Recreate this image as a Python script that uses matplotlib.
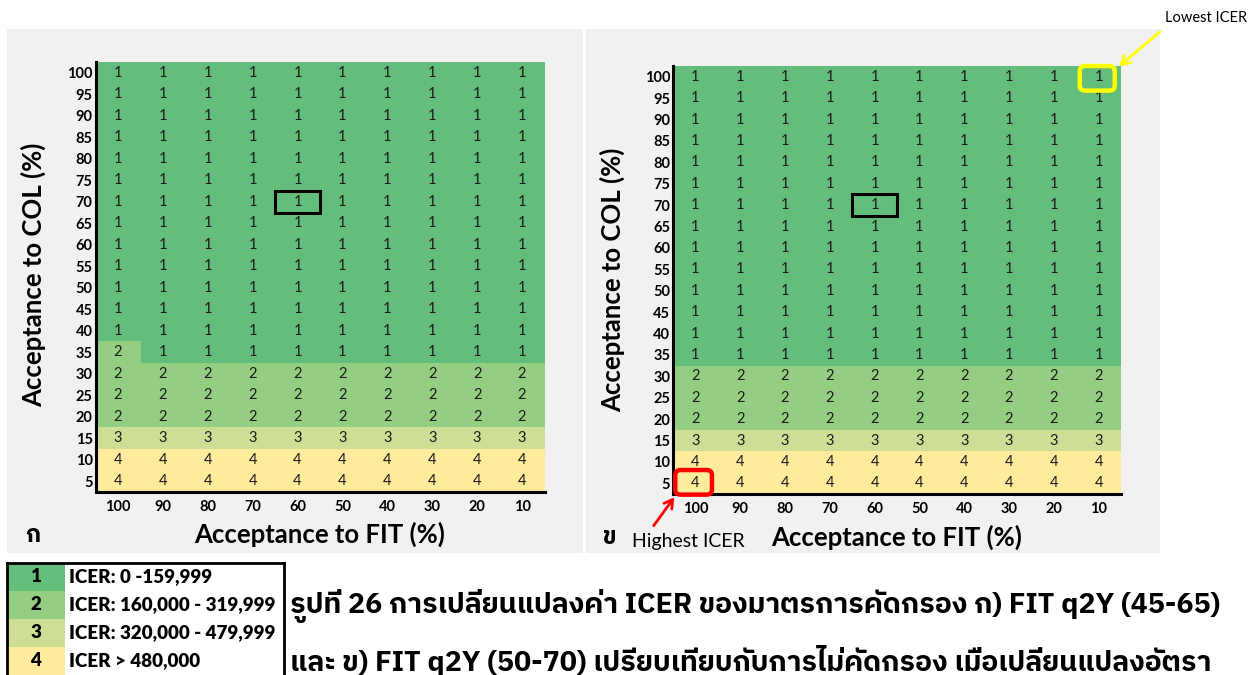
import matplotlib
matplotlib.use("Agg")
import matplotlib.pyplot as plt
import numpy as np
from matplotlib.colors import ListedColormap, BoundaryNorm
from matplotlib.patches import Rectangle, FancyBboxPatch, FancyArrowPatch
from matplotlib import font_manager
from matplotlib.ft2font import FT2Font

# ---------------- data ----------------
fit_acceptance = [100, 90, 80, 70, 60, 50, 40, 30, 20, 10]
col_acceptance = [100, 95, 90, 85, 80, 75, 70, 65, 60, 55, 50, 45, 40, 35, 30, 25, 20, 15, 10, 5]

# ICER category per COL row (top to bottom) for every FIT column
icer_a = [
    [1] * 10, [1] * 10, [1] * 10, [1] * 10, [1] * 10, [1] * 10, [1] * 10,
    [1] * 10, [1] * 10, [1] * 10, [1] * 10, [1] * 10, [1] * 10,
    [2, 1, 1, 1, 1, 1, 1, 1, 1, 1],
    [2] * 10, [2] * 10, [2] * 10,
    [3] * 10,
    [4] * 10, [4] * 10,
]
icer_b = [
    [1] * 10, [1] * 10, [1] * 10, [1] * 10, [1] * 10, [1] * 10, [1] * 10,
    [1] * 10, [1] * 10, [1] * 10, [1] * 10, [1] * 10, [1] * 10,
    [1] * 10,
    [2] * 10, [2] * 10, [2] * 10,
    [3] * 10,
    [4] * 10, [4] * 10,
]
legend_codes = [1, 2, 3, 4]
legend_labels = ["ICER: 0 -159,999", "ICER: 160,000 - 319,999",
                 "ICER: 320,000 - 479,999", "ICER > 480,000"]
category_colors = ["#63BE7B", "#94CE83", "#CDDF95", "#FFEB9C"]

caption_lines = [
    "รูปที่ 26 การเปลี่ยนแปลงค่า ICER ของมาตรการคัดกรอง ก) FIT q2Y (45-65)",
    "และ ข) FIT q2Y (50-70) เปรียบเทียบกับการไม่คัดกรอง เมื่อเปลี่ยนแปลงอัตรา",
]


def family_with(char):
    """Return an installed font family covering the given character."""
    found = []
    for f in font_manager.fontManager.ttflist:
        try:
            if ord(char) in FT2Font(f.fname).get_charmap():
                found.append(f.name)
        except Exception:
            continue
    for name in found:
        if "Thai" in name:
            return name
    return found[0] if found else "DejaVu Sans"


thai_family = [family_with("ก"), "DejaVu Sans"]
latin = "Lato"

W, H = 1255, 675
fig = plt.figure(figsize=(W / 100, H / 100), dpi=100)
fig.patch.set_facecolor("white")


def frac_box(x0, y0, x1, y1):
    """Pixel box (top-left origin) -> figure fraction [l, b, w, h]."""
    return [x0 / W, 1 - y1 / H, (x1 - x0) / W, (y1 - y0) / H]


# panel backgrounds
for x0, x1 in [(7, 583), (586, 1160)]:
    l, b, w, h = frac_box(x0, 29, x1, 553)
    fig.patches.append(Rectangle((l, b), w, h, transform=fig.transFigure,
                                 facecolor="#F1F1F1", edgecolor="none", zorder=-10))

cmap = ListedColormap(category_colors)
norm = BoundaryNorm([0.5, 1.5, 2.5, 3.5, 4.5], cmap.N)


def draw_panel(box, grid):
    ax = fig.add_axes(frac_box(*box))
    ax.set_zorder(2)
    ax.patch.set_alpha(0)
    data = np.array(grid)
    ax.imshow(data, cmap=cmap, norm=norm, aspect="auto", interpolation="nearest")
    for i in range(data.shape[0]):
        for j in range(data.shape[1]):
            ax.text(j, i, str(data[i, j]), ha="center", va="center",
                    fontsize=10.5, family=latin, color="#1a1a1a")
    ax.set_xticks(range(len(fit_acceptance)))
    ax.set_xticklabels([str(v) for v in fit_acceptance], fontsize=10.5,
                       fontweight="bold", family=latin)
    ax.set_yticks(range(len(col_acceptance)))
    ax.set_yticklabels([str(v) for v in col_acceptance], fontsize=10.5,
                       fontweight="bold", family=latin)
    ax.tick_params(length=0, pad=2)
    ax.tick_params(axis="x", pad=6)
    for s in ["top", "right"]:
        ax.spines[s].set_visible(False)
    for s in ["left", "bottom"]:
        ax.spines[s].set_linewidth(2.2)
        ax.spines[s].set_color("black")
    ax.set_xlim(-0.5, len(fit_acceptance) - 0.5)
    ax.set_ylim(len(col_acceptance) - 0.5, -0.5)
    return ax


ax_a = draw_panel((95.5, 62, 544.5, 492), icer_a)
ax_b = draw_panel((673, 66, 1121, 494), icer_b)

# highlighted reference cell (FIT 60 %, COL 70 %)
for ax in (ax_a, ax_b):
    j = fit_acceptance.index(60)
    i = col_acceptance.index(70)
    ax.add_patch(Rectangle((j - 0.5, i - 0.5), 1, 1, fill=False,
                           edgecolor="black", linewidth=2.2, zorder=5))

# lowest / highest ICER cells
j_lo, i_lo = fit_acceptance.index(10), col_acceptance.index(100)
ax_b.add_patch(FancyBboxPatch((j_lo - 0.42, i_lo - 0.5), 0.78, 1.15,
                              boxstyle="round,pad=0,rounding_size=0.12",
                              mutation_aspect=2.0, fill=False,
                              edgecolor="#FFFF00", linewidth=3.2, zorder=6,
                              clip_on=False))
j_hi, i_hi = fit_acceptance.index(100), col_acceptance.index(5)
ax_b.add_patch(FancyBboxPatch((j_hi - 0.45, i_hi - 0.62), 0.82, 1.15,
                              boxstyle="round,pad=0,rounding_size=0.12",
                              mutation_aspect=2.0, fill=False,
                              edgecolor="#FF0000", linewidth=3.2, zorder=6,
                              clip_on=False))

# arrows and notes
fig.add_artist(FancyArrowPatch(
    (1162 / W, 1 - 30 / H), (1117 / W, 1 - 68 / H), transform=fig.transFigure,
    arrowstyle="->,head_length=6,head_width=3.5", color="#FFFF00", linewidth=2,
    zorder=10))
fig.text(1165 / W, 1 - 18 / H, "Lowest ICER", fontsize=10.5, family=latin,
         ha="left", va="center")
fig.add_artist(FancyArrowPatch(
    (652 / W, 1 - 528 / H), (676 / W, 1 - 495 / H), transform=fig.transFigure,
    arrowstyle="->,head_length=6,head_width=3.5", color="#FF0000", linewidth=2,
    zorder=10))
fig.text(632 / W, 1 - 541 / H, "Highest ICER", fontsize=14, family=latin,
         ha="left", va="center")

# axis titles and panel letters
for cx, cy, ylx, yly, letter, lx, ly in [
        (320, 534, 33, 275, "ก", 33, 535),
        (897, 537, 612, 280, "ข", 610, 537)]:
    fig.text(cx / W, 1 - cy / H, "Acceptance to FIT (%)", fontsize=18.5,
             fontweight="bold", family=latin, ha="center", va="center")
    fig.text(ylx / W, 1 - yly / H, "Acceptance to COL (%)", fontsize=18.5,
             fontweight="bold", family=latin, ha="center", va="center",
             rotation=90)
    fig.text(lx / W, 1 - ly / H, letter, fontsize=17, fontweight="bold",
             family=thai_family, ha="center", va="center")

# colour key
row_h = 28
top = 563
for k, (code, label) in enumerate(zip(legend_codes, legend_labels)):
    y0 = top + k * row_h
    l, b, w, h = frac_box(7, y0, 65, y0 + row_h)
    fig.patches.append(Rectangle((l, b), w, h, transform=fig.transFigure,
                                 facecolor=category_colors[k], edgecolor="none"))
    fig.text(36 / W, 1 - (y0 + row_h / 2) / H, str(code), fontsize=13.5,
             fontweight="heavy", family=latin, ha="center", va="center")
    fig.text(69 / W, 1 - (y0 + row_h / 2) / H, label, fontsize=13.5,
             fontweight="heavy", family=latin, ha="left", va="center")
for xs, ys in [([7 / W, 7 / W], [1 - 563 / H, 0]),
               ([7 / W, 284 / W], [1 - 563 / H, 1 - 563 / H]),
               ([284 / W, 284 / W], [1 - 563 / H, 0])]:
    fig.add_artist(plt.Line2D(xs, ys, color="black", linewidth=2,
                              transform=fig.transFigure))

# caption
for k, line in enumerate(caption_lines):
    fig.text(290 / W, 1 - (606 + k * 55) / H, line, fontsize=20.5,
             fontweight="bold", family=thai_family, ha="left", va="center")

fig.savefig("out.png", dpi=100, facecolor="white")
